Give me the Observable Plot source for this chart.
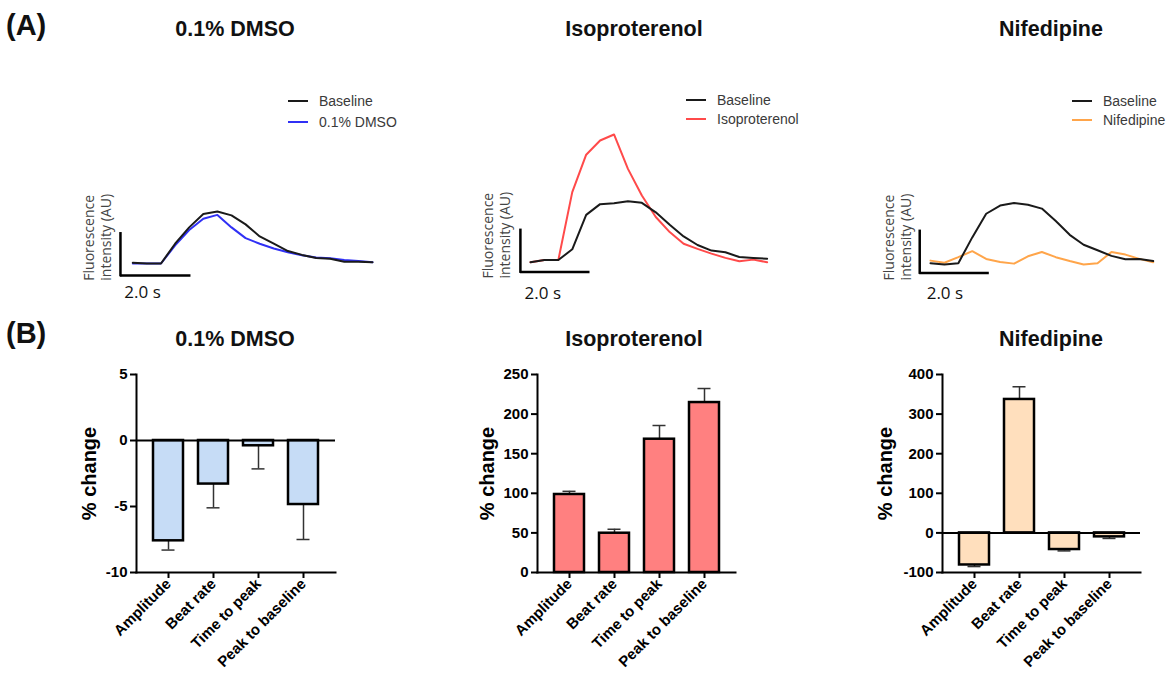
<!DOCTYPE html>
<html>
<head>
<meta charset="utf-8">
<script src="https://cdn.jsdelivr.net/npm/d3@7"></script>
<script src="https://cdn.jsdelivr.net/npm/@observablehq/plot@0.6"></script>
<style>
  html, body { margin: 0; padding: 0; background: #fff; }
  #page { position: relative; width: 1171px; height: 676px; background: #fff; overflow: hidden; font-family: "Liberation Sans", Arial, sans-serif; }
  .abs { position: absolute; }
  .panel-letter { font-weight: bold; font-size: 29px; line-height: 29px; color: #111; }
  .title { font-weight: bold; font-size: 21.5px; line-height: 21.5px; width: 240px; text-align: center; color: #111; }
  .leg-sw { height: 2px; width: 20px; }
  .leg-tx { font-size: 14px; line-height: 14px; color: #3a3a3a; white-space: nowrap; }
</style>
</head>
<body>
<div id="page"></div>
<script>
// ---------------- DATA ----------------
// Panel A: representative calcium transients (time in s, fluorescence in AU)
const times18 = [0, 0.4, 0.8, 1.2, 1.6, 2.0, 2.4, 2.8, 3.2, 3.6, 4.0, 4.4, 4.8, 5.2, 5.6, 6.0, 6.4, 6.8];
const times17 = [0, 0.4, 0.8, 1.2, 1.6, 2.0, 2.4, 2.8, 3.2, 3.6, 4.0, 4.4, 4.8, 5.2, 5.6, 6.0, 6.4];

const dmsoBaseline = [0.02, 0, 0, 0.46, 0.84, 1.15, 1.21, 1.12, 0.91, 0.63, 0.46, 0.29, 0.20, 0.13, 0.11, 0.04, 0.04, 0.03];
const dmsoTreated  = [0, 0, 0, 0.42, 0.78, 1.04, 1.13, 0.84, 0.59, 0.46, 0.35, 0.26, 0.19, 0.14, 0.12, 0.08, 0.06, 0.03];

const isoBaseline = [0, 0.05, 0.05, 0.30, 1.10, 1.35, 1.37, 1.42, 1.38, 1.16, 0.87, 0.60, 0.40, 0.27, 0.23, 0.12, 0.10, 0.08];
const isoTreated  = [0, 0.05, 0.05, 1.63, 2.50, 2.83, 2.97, 2.17, 1.55, 1.05, 0.70, 0.43, 0.31, 0.20, 0.10, 0.02, 0.06, 0];

const nifBaseline = [0, -0.03, 0, 0.60, 1.15, 1.34, 1.40, 1.36, 1.27, 0.98, 0.66, 0.43, 0.30, 0.17, 0.09, 0.10, 0.05];
const nifTreated  = [0.06, 0.01, 0.14, 0.28, 0.10, 0.03, -0.01, 0.16, 0.26, 0.14, 0.05, -0.03, 0, 0.26, 0.20, 0.10, 0.02];

const traceNames = ["0.1% DMSO", "Isoproterenol", "Nifedipine"];

// Panel B: % change (mean and error)
const params = ["Amplitude", "Beat rate", "Time to peak", "Peak to baseline"];
const dmsoMean = [-7.6, -3.3, -0.4, -4.85];
const dmsoErr  = [0.7, 1.8, 1.75, 2.65];
const isoMean  = [98.5, 49.6, 168.3, 214.6];
const isoErr   = [4.0, 5.0, 17.3, 17.7];
const nifMean  = [-81, 337, -42, -10];
const nifErr   = [4, 32, 3.5, 4];

const dmsoTicks = [5, 0, -5, -10];
const isoTicks  = [0, 50, 100, 150, 200, 250];
const nifTicks  = [-100, 0, 100, 200, 300, 400];

// ---------------- STYLE ----------------
const BLACK = "#1a1a1a";
const traceColors = ["#3030f5", "#ff4a4a", "#ffa54a"];
const barFills = ["#c6dcf6", "#ff8080", "#ffdfbd"];

const page = document.getElementById("page");

function place(el, left, top) {
  el.style.position = "absolute";
  el.style.left = left + "px";
  el.style.top = top + "px";
  page.appendChild(el);
}
function addText(cls, text, left, top, extra) {
  const d = document.createElement("div");
  d.className = "abs " + cls;
  d.textContent = text;
  d.style.left = left + "px";
  d.style.top = top + "px";
  if (extra) Object.assign(d.style, extra);
  page.appendChild(d);
}

// ---------------- PANEL A: traces ----------------
function tracePlot(cfg) {
  const {L, T, W, H, x0, k, yb, ppa, times, base, treat, color, sb, lbl, secPos} = cfg;
  const baseRows = times.map((t, i) => ({t, v: base[i]}));
  const treatRows = times.map((t, i) => ({t, v: treat[i]}));
  return Plot.plot({
    width: W, height: H, margin: 0,
    x: {domain: [(L - x0) / k, (L + W - x0) / k], range: [0, W]},
    y: {domain: [(yb - (T + H)) / ppa, (yb - T) / ppa], range: [H, 0]},
    axis: null,
    style: {background: "transparent", overflow: "visible"},
    marks: [
      Plot.ruleX([sb.t], {y1: sb.a0 - 0.03, y2: sb.a0 + 1.0, stroke: "#000", strokeWidth: 2.5}),
      Plot.ruleY([sb.a0], {x1: sb.t, x2: sb.t + 2.0, stroke: "#000", strokeWidth: 2.5}),
      Plot.text(["2.0 s"], {text: d => d, x: secPos.t, y: secPos.a, textAnchor: "start",
        fontSize: 17, fontFamily: "'Open Sans', sans-serif", fill: "#111"}),
      Plot.text(["Fluorescence\nintensity (AU)"], {text: d => d, x: lbl.t, y: lbl.a, rotate: -90,
        textAnchor: "start", lineAnchor: "middle", lineHeight: 1.2, fontSize: 14,
        fontFamily: "'Open Sans', sans-serif", fill: "#444"}),
      Plot.line(treatRows, {x: "t", y: "v", stroke: color, strokeWidth: 2}),
      Plot.line(baseRows, {x: "t", y: "v", stroke: BLACK, strokeWidth: 2})
    ]
  });
}

function legend(x, y1, y2, color, name) {
  const rows = [[y1, BLACK, "Baseline"], [y2, color, name]];
  for (const [y, c, n] of rows) {
    const sw = document.createElement("div");
    sw.className = "abs leg-sw";
    sw.style.background = c;
    sw.style.left = x + "px";
    sw.style.top = (y - 1) + "px";
    page.appendChild(sw);
    addText("leg-tx", n, x + 31, y - 7);
  }
}

const traceCfgs = [
  {L: 70, T: 80, W: 330, H: 230, x0: 132.3, k: 35.25, yb: 263, ppa: 43, times: times18,
   base: dmsoBaseline, treat: dmsoTreated, color: traceColors[0],
   sb: {t: -0.35, a0: -0.28}, lbl: {t: -1.02, a: -0.40}, secPos: {t: -0.24, a: -0.67},
   leg: [288, 100.7, 121.7]},
  {L: 470, T: 80, W: 330, H: 230, x0: 530, k: 34.8, yb: 261.7, ppa: 43, times: times18,
   base: isoBaseline, treat: isoTreated, color: traceColors[1],
   sb: {t: -0.29, a0: -0.23}, lbl: {t: -0.98, a: -0.38}, secPos: {t: -0.17, a: -0.72},
   leg: [686, 100, 119]},
  {L: 870, T: 80, W: 300, H: 230, x0: 930, k: 34.8, yb: 262.7, ppa: 43, times: times17,
   base: nifBaseline, treat: nifTreated, color: traceColors[2],
   sb: {t: -0.31, a0: -0.23}, lbl: {t: -0.95, a: -0.40}, secPos: {t: -0.11, a: -0.71},
   leg: [1072, 100.7, 120]}
];

traceCfgs.forEach((c, i) => {
  place(tracePlot(c), c.L, c.T);
  legend(c.leg[0], c.leg[1], c.leg[2], c.color, traceNames[i]);
});

// ---------------- PANEL B: bar charts ----------------
function barPlot(cfg) {
  const {mean, err, fill, domain, ticks, zero, ml, labelDx} = cfg;
  const rows = params.map((c, i) => ({c, m: mean[i], e: err[i]}));
  const end = d => d.m + Math.sign(d.m) * d.e;
  return Plot.plot({
    width: 285, height: 316, marginTop: 14, marginBottom: 104, marginLeft: ml, marginRight: 10,
    x: {domain: params, padding: 0.34},
    y: {domain},
    style: {fontFamily: "'Liberation Sans', Arial, sans-serif", fontWeight: "bold", fontSize: "15px",
      background: "transparent", overflow: "visible", color: "#000"},
    marks: [
      Plot.ruleX(rows, {x: "c", y1: "m", y2: end, stroke: "#333", strokeWidth: 1.5}),
      Plot.tickY(rows, {x: "c", y: end, insetLeft: 8.5, insetRight: 8.5, stroke: "#333", strokeWidth: 1.5}),
      Plot.barY(rows, {x: "c", y1: 0, y2: "m", fill, stroke: "#000", strokeWidth: 2.5}),
      zero ? Plot.ruleY([0], {stroke: "#000", strokeWidth: 2}) : null,
      Plot.frame({anchor: "left", stroke: "#000", strokeWidth: 2}),
      Plot.frame({anchor: "bottom", stroke: "#000", strokeWidth: 2}),
      Plot.axisY({ticks, tickFormat: d => String(d), tickSize: 6, tickPadding: 3, strokeWidth: 2, label: null}),
      Plot.axisX({tickRotate: -45, tickSize: 6, tickPadding: 3, strokeWidth: 2, label: null}),
      Plot.text(["% change"], {text: d => d, frameAnchor: "left", textAnchor: "middle", lineAnchor: "middle",
        rotate: -90, dx: labelDx, fontSize: 20})
    ]
  });
}

place(barPlot({mean: dmsoMean, err: dmsoErr, fill: barFills[0], domain: [-10, 5], ticks: dmsoTicks, zero: true, ml: 76, labelDx: -47}), 60, 360);
place(barPlot({mean: isoMean, err: isoErr, fill: barFills[1], domain: [0, 250], ticks: isoTicks, zero: false, ml: 77, labelDx: -50}), 460, 360);
place(barPlot({mean: nifMean, err: nifErr, fill: barFills[2], domain: [-100, 400], ticks: nifTicks, zero: true, ml: 77, labelDx: -56.5}), 865, 360);

// ---------------- Titles ----------------
addText("panel-letter", "(A)", 6, 11);
addText("panel-letter", "(B)", 6, 319);
const centers = [235, 634, 1051];
centers.forEach((cx, i) => {
  addText("title", traceNames[i], cx - 120, 19);
  addText("title", traceNames[i], cx - 120, 328.5);
});
</script>
</body>
</html>
